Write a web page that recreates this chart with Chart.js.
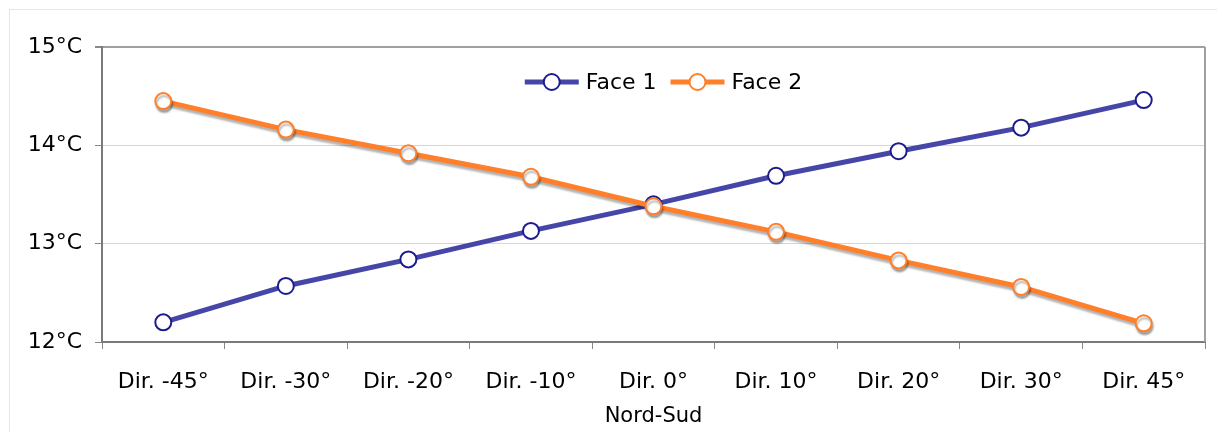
<!DOCTYPE html>
<html>
<head>
<meta charset="utf-8">
<script src="https://cdn.jsdelivr.net/npm/chart.js@4"></script>
<style>
  html, body { margin: 0; padding: 0; background: #fff; }
  #wrap { position: relative; width: 1217px; height: 432px; overflow: hidden; }
  #frame { position: absolute; left: 9px; top: 9px; width: 1300px; height: 500px; border: 1px solid #e6e6e6; }
  canvas { position: absolute; left: 0; top: 0; }
</style>
</head>
<body>
<div id="wrap">
  <div id="frame"></div>
  <canvas id="chartLine" width="1217" height="432"></canvas>
</div>
<script>
const labels = ['Dir. -45°', 'Dir. -30°', 'Dir. -20°', 'Dir. -10°', 'Dir. 0°', 'Dir. 10°', 'Dir. 20°', 'Dir. 30°', 'Dir. 45°'];
const face1 = [12.20, 12.57, 12.84, 13.13, 13.40, 13.69, 13.94, 14.18, 14.46];
const face2 = [14.45, 14.16, 13.92, 13.68, 13.38, 13.12, 12.83, 12.56, 12.19];
const yTicks = [12, 13, 14, 15];

const FONT = 'DejaVu Sans';

// grey drop shadow under the orange series
const shadowPlugin = {
    id: 'shadow',
    beforeDatasetDraw(chart, args) {
        if (args.index !== 1) return;
        const ctx = chart.ctx;
        ctx.save();
        ctx.shadowColor = 'rgba(0,0,0,0.3)';
        ctx.shadowOffsetX = 1;
        ctx.shadowOffsetY = 3;
        ctx.shadowBlur = 2;
    },
    afterDatasetDraw(chart, args) {
        if (args.index === 1) chart.ctx.restore();
    }
};

// right edge of the plot frame
const framePlugin = {
    id: 'frame',
    beforeDatasetsDraw(chart) {
        const {ctx, chartArea: a} = chart;
        ctx.save();
        ctx.strokeStyle = '#a0a0a0';
        ctx.lineWidth = 2;
        ctx.beginPath();
        ctx.moveTo(a.right, a.top);
        ctx.lineTo(a.right, a.bottom);
        ctx.stroke();
        ctx.restore();
    }
};

// legend inside the plot, line + hollow marker, centred near the top
const legendPlugin = {
    id: 'innerLegend',
    afterDraw(chart) {
        const {ctx, chartArea: a} = chart;
        const iconW = 54, gap = 7, itemGap = 14;
        ctx.save();
        ctx.font = '22px "' + FONT + '"';
        const items = chart.data.datasets.map(ds => ({ ds, w: ctx.measureText(ds.label).width }));
        let total = 0;
        items.forEach((it, i) => { total += iconW + gap + it.w + (i ? itemGap : 0); });
        let x = (a.left + a.right) / 2 + 10 - total / 2;
        const y = a.top + 35;
        items.forEach(it => {
            const ds = it.ds;
            ctx.strokeStyle = ds.borderColor;
            ctx.lineWidth = 5;
            ctx.beginPath(); ctx.moveTo(x, y); ctx.lineTo(x + iconW, y); ctx.stroke();
            ctx.beginPath(); ctx.arc(x + iconW / 2, y, 8, 0, Math.PI * 2);
            ctx.fillStyle = '#fff'; ctx.fill();
            ctx.lineWidth = 2; ctx.strokeStyle = ds.pointBorderColor; ctx.stroke();
            ctx.fillStyle = '#000';
            ctx.textBaseline = 'middle';
            ctx.textAlign = 'left';
            ctx.fillText(ds.label, x + iconW + gap, y + 1);
            x += iconW + gap + it.w + itemGap;
        });
        ctx.restore();
    }
};

const data = {
    labels: labels,
    datasets: [{
        label: 'Face 1',
        data: face1,
        borderColor: '#4646a8',
        borderWidth: 5,
        pointRadius: 8,
        pointHoverRadius: 8,
        pointBackgroundColor: '#fff',
        pointBorderColor: '#1c1c8e',
        pointBorderWidth: 2,
        order: 1
    }, {
        label: 'Face 2',
        data: face2,
        borderColor: '#ff7f2a',
        borderWidth: 5,
        pointRadius: 8,
        pointHoverRadius: 8,
        pointBackgroundColor: '#fff',
        pointBorderColor: '#ff7f2a',
        pointBorderWidth: 2,
        order: 0
    }]
};

const configLineChart = {
    type: 'line',
    data,
    plugins: [shadowPlugin, framePlugin, legendPlugin],
    options: {
        responsive: false,
        animation: false,
        layout: { padding: { left: 0, top: 47, right: 12, bottom: 0 } },
        plugins: {
            tooltip: { enabled: false },
            legend: { display: false }
        },
        scales: {
            x: {
                offset: true,
                afterFit(scale) { scale.height = 90; },
                grid: { offset: true, drawOnChartArea: false, tickLength: 7, tickColor: '#888' },
                border: { color: '#7a7a7a', width: 2 },
                ticks: { color: '#000', padding: 20, font: { family: FONT, size: 22 }, maxRotation: 0 },
                title: { display: true, text: 'Nord-Sud', color: '#000', font: { family: FONT, size: 21 }, padding: { top: 0, bottom: 3 } }
            },
            y: {
                min: 12,
                max: 15,
                afterFit(scale) { scale.width = 102; },
                afterBuildTicks(scale) { scale.ticks = yTicks.map(v => ({ value: v })); },
                grid: {
                    tickLength: 7,
                    tickColor: '#888',
                    color: ctx => ctx.tick && ctx.tick.value === 15 ? '#a0a0a0' : '#d6d6d6',
                    lineWidth: ctx => ctx.tick && ctx.tick.value === 15 ? 2 : 1
                },
                border: { color: '#7a7a7a', width: 2 },
                ticks: {
                    color: '#000',
                    padding: 13,
                    font: { family: FONT, size: 22 },
                    callback: v => v + '°C'
                }
            }
        }
    }
};

var chartLine = new Chart(document.getElementById('chartLine'), configLineChart);
</script>
</body>
</html>
